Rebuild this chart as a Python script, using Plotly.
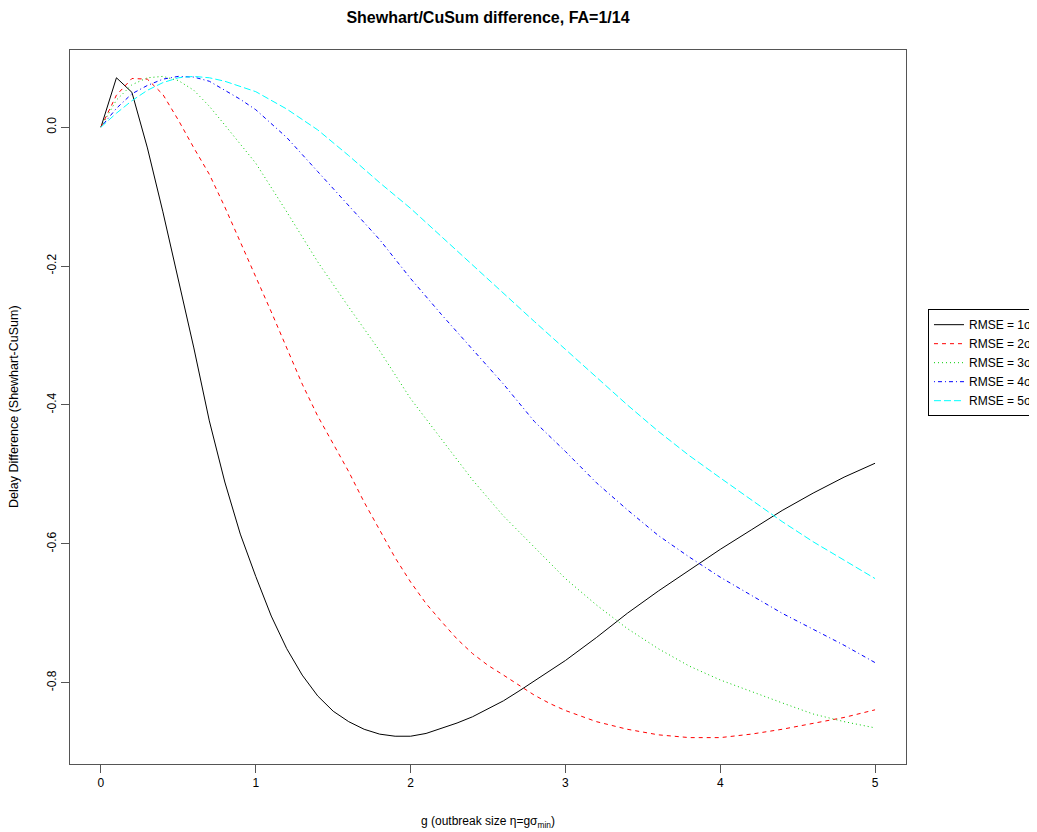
import plotly.graph_objects as go

# outbreak size g (finer sampling where the RMSE=1 and RMSE=2 curves bend sharply)
g_fine = [0.0, 0.1, 0.2, 0.3, 0.4, 0.5, 0.6, 0.7, 0.8, 0.9, 1.0,
          1.1, 1.2, 1.3, 1.4, 1.5, 1.6, 1.7, 1.8, 1.9, 2.0,
          2.1, 2.2, 2.3, 2.4, 2.5, 2.6, 2.7, 2.8, 2.9, 3.0,
          3.2, 3.4, 3.6, 3.8, 4.0, 4.2, 4.4, 4.6, 4.8, 5.0]

g = [0.0, 0.1, 0.2, 0.3, 0.4, 0.5, 0.6, 0.7, 0.8, 0.9, 1.0,
     1.2, 1.4, 1.6, 1.8, 2.0, 2.2, 2.4, 2.6, 2.8, 3.0,
     3.2, 3.4, 3.6, 3.8, 4.0, 4.2, 4.4, 4.6, 4.8, 5.0]

rmse1 = [0.000, 0.071, 0.050, -0.030, -0.122, -0.219, -0.318, -0.423, -0.511, -0.586, -0.647,
         -0.704, -0.751, -0.789, -0.819, -0.841, -0.856, -0.867, -0.874, -0.877, -0.877,
         -0.873, -0.866, -0.858, -0.849, -0.838, -0.826, -0.812, -0.797, -0.782, -0.768,
         -0.735, -0.700, -0.668, -0.638, -0.608, -0.580, -0.552, -0.527, -0.504, -0.484]

rmse2 = [0.000, 0.046, 0.070, 0.069, 0.047, 0.010, -0.030, -0.068, -0.115, -0.165, -0.214,
         -0.266, -0.318, -0.370, -0.416, -0.456, -0.496, -0.540, -0.581, -0.620, -0.655,
         -0.686, -0.712, -0.737, -0.758, -0.775, -0.789, -0.804, -0.818, -0.830, -0.840,
         -0.856, -0.867, -0.875, -0.879, -0.879, -0.874, -0.867, -0.859, -0.850, -0.839]

rmse3 = [0.000, 0.039, 0.061, 0.071, 0.073, 0.067, 0.053, 0.030, 0.003, -0.024, -0.052,
         -0.122, -0.194, -0.259, -0.322, -0.391, -0.449, -0.508, -0.560, -0.605, -0.650,
         -0.688, -0.722, -0.751, -0.776, -0.796, -0.813, -0.829, -0.845, -0.856, -0.865]

rmse4 = [0.000, 0.027, 0.048, 0.060, 0.069, 0.073, 0.072, 0.066, 0.053, 0.040, 0.025,
         -0.015, -0.064, -0.113, -0.162, -0.218, -0.270, -0.320, -0.370, -0.424, -0.467,
         -0.512, -0.551, -0.588, -0.619, -0.648, -0.674, -0.700, -0.723, -0.746, -0.771]

rmse5 = [0.000, 0.020, 0.038, 0.053, 0.064, 0.071, 0.073, 0.071, 0.066, 0.059, 0.051,
         0.026, -0.004, -0.041, -0.080, -0.117, -0.158, -0.199, -0.240, -0.280, -0.320,
         -0.360, -0.400, -0.438, -0.473, -0.505, -0.537, -0.568, -0.597, -0.624, -0.650]

xs = [g_fine, g_fine, g, g, g]
series = [rmse1, rmse2, rmse3, rmse4, rmse5]
names = ["RMSE = 1σ<sub>min</sub>", "RMSE = 2σ<sub>min</sub>", "RMSE = 3σ<sub>min</sub>",
         "RMSE = 4σ<sub>min</sub>", "RMSE = 5σ<sub>min</sub>"]
colors = ["#000000", "#FF0000", "#00CD00", "#0000FF", "#00FFFF"]
dashes = ["solid", "4px,4px", "1px,3px", "1px,3px,4px,3px", "7px,3px"]

x_ticks = [0, 1, 2, 3, 4, 5]
y_ticks = [0.0, -0.2, -0.4, -0.6, -0.8]
y_tick_labels = ["0.0", "-0.2", "-0.4", "-0.6", "-0.8"]

FONT = "Liberation Sans, Arial, sans-serif"

# the page puts the figure 8px in from the top-left corner; margins compensate
fig = go.Figure()
for x, ys, nm, c, d in zip(xs, series, names, colors, dashes):
    fig.add_trace(go.Scatter(x=x, y=ys, mode="lines", name=nm,
                             line=dict(color=c, width=1, dash=d)))

fig.update_layout(
    width=1037, height=832,
    margin=dict(l=62, r=139, t=42, b=76, autoexpand=False),
    paper_bgcolor="white", plot_bgcolor="white",
    font=dict(family=FONT, size=12, color="#000000"),
    title=dict(text="<b>Shewhart/CuSum difference, FA=1/14</b>",
               x=0.5, xref="paper", xanchor="center",
               y=1 - 9 / 832, yref="container", yanchor="middle",
               font=dict(family=FONT, size=16, color="#000000")),
    showlegend=True,
    legend=dict(x=1.0263, xanchor="left", y=0.637, yanchor="top",
                bordercolor="#000000", borderwidth=1, bgcolor="white",
                font=dict(family=FONT, size=12, color="#000000"),
                tracegroupgap=0, itemwidth=30),
    xaxis=dict(range=[-0.2, 5.2], tickvals=x_ticks, ticktext=[str(t) for t in x_ticks],
               showgrid=False, zeroline=False, showline=True, mirror=True,
               linecolor="#555555", linewidth=1,
               ticks="outside", ticklen=8, tickcolor="#555555", tickwidth=1,
               tickfont=dict(family=FONT, size=12, color="#000000")),
    yaxis=dict(range=[-0.917, 0.111], tickvals=y_ticks, ticktext=y_tick_labels,
               showgrid=False, zeroline=False, showline=True, mirror=True,
               linecolor="#555555", linewidth=1,
               ticks="outside", ticklen=8, tickcolor="#555555", tickwidth=1,
               tickangle=-90,
               tickfont=dict(family=FONT, size=12, color="#000000")),
    annotations=[
        dict(text="g (outbreak size η=gσ<sub>min</sub>)", x=0.5, xref="paper",
             y=0, yref="paper", xanchor="center", yanchor="middle",
             yshift=-58, showarrow=False, font=dict(family=FONT, size=12, color="#000000")),
        dict(text="Delay Difference (Shewhart-CuSum)", x=0, xref="paper",
             y=0.5, yref="paper", xanchor="center", yanchor="middle",
             xshift=-56, textangle=-90, showarrow=False,
             font=dict(family=FONT, size=12.5, color="#000000")),
    ],
)

fig.write_html("out.html")
